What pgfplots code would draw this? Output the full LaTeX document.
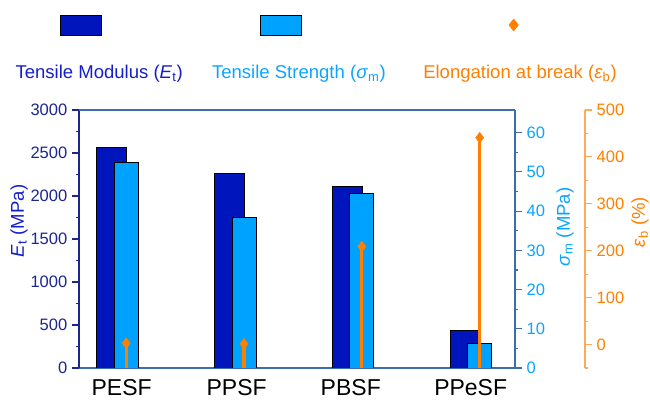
\documentclass[border=0pt]{standalone}
\usepackage{fontspec}
\setmainfont{Liberation Sans}
\usepackage{pgfplots}
\pgfplotsset{compat=1.18}
\definecolor{darkbar}{RGB}{0,21,188}
\definecolor{lightbar}{RGB}{0,162,255}
\definecolor{orng}{RGB}{255,128,0}
\definecolor{orngline}{RGB}{255,170,90}
\definecolor{navy}{RGB}{28,38,140}
\definecolor{modtext}{RGB}{20,30,200}
\definecolor{steel}{RGB}{60,110,170}
\definecolor{strtext}{RGB}{10,165,255}
\newcommand{\lblfont}{\fontsize{13.9}{16}\selectfont}
\pgfplotsset{
  base/.style={scale only axis, width=327pt, height=193.5pt,
    at={(59.25pt,28.5pt)}, anchor=south west, xmin=-0.401, xmax=3.30,
    /pgf/number format/assume math mode=true,
    /pgf/number format/1000 sep={},
    tick align=outside, major tick length=5.25pt, minor tick length=2.5pt,
    every tick/.style={line width=0.8pt},
    ticklabel style={font=\fontsize{12.4}{14}\selectfont}},
}
\begin{document}
\begin{tikzpicture}
\path[use as bounding box] (0,0) rectangle (487.5pt,304.5pt);
% left axis: tensile modulus
\begin{axis}[base, ymin=0, ymax=3000,
  axis y line*=left, axis x line*=bottom,
  y axis line style={-, navy, line width=0.8pt},
  x axis line style={-, steel, line width=0.8pt},
  xtick={-0.039,0.937,1.906,2.924},
  xticklabels={PESF,PPSF,PBSF,PPeSF},
  xtick style={draw=none},
  xticklabel style={font=\fontsize{17.25}{20}\selectfont, black},
  ytick={0,500,...,3000}, minor y tick num=1,
  ytick style={navy},
  yticklabel style={navy},
  ylabel={\textit{E}\textsubscript{t} (MPa)},
  every axis y label/.style={at={(axis description cs:-0.1376,0.57)}, rotate=90, anchor=center, modtext, font=\lblfont}]
\addplot[ybar, bar width=0.2547, bar shift=-0.124, fill=darkbar, draw=black, line width=0.6pt]
  coordinates {(0,2562) (1,2267) (2,2108) (3,438)};
\end{axis}
% right axis: tensile strength
\begin{axis}[base, ymin=0, ymax=65.8,
  axis y line*=right, axis x line*=top, xtick=\empty,
  x axis line style={-, steel, line width=0.8pt},
  y axis line style={-, steel, line width=0.8pt},
  ytick={0,10,...,60}, minor y tick num=1,
  ytick style={steel},
  yticklabel style={strtext},
  ylabel={\textit{σ}\textsubscript{m} (MPa)},
  every axis y label/.style={at={(axis description cs:1.1147,0.5465)}, rotate=90, anchor=center, strtext, font=\lblfont}]
\addplot[ybar, bar width=0.2037, bar shift=0, fill=lightbar, draw=black, line width=0.6pt]
  coordinates {(0,52.5) (1,38.3) (2,44.45) (3,6.2)};
\end{axis}
% offset axis: elongation at break (shifted by +50 so stems start at the bottom)
\begin{axis}[base, ymin=0, ymax=550,
  axis y line*=right, axis y line shift=52.5pt, hide x axis,
  y axis line style={-, orngline, line width=0.8pt},
  ytick={50,150,...,550}, yticklabels={0,100,200,300,400,500},
  minor ytick={0,100,...,500},
  ytick style={orngline},
  yticklabel style={orng},
  ylabel={\textit{ε}\textsubscript{b} (\%)},
  every axis y label/.style={at={(axis description cs:1.287,0.566)}, rotate=90, anchor=center, orng, font=\lblfont},
  legend columns=3, legend cell align=left,
  legend style={at={(-0.1468,1.1434)}, anchor=west, draw=none, fill=none,
    inner sep=0pt, outer sep=0pt, column sep=0pt,
    nodes={inner sep=0pt, font=\lblfont}}]
\addlegendimage{legend image code/.code={\path (0pt,0pt);
  \draw[overlay, fill=darkbar, draw=black, line width=0.6pt] (34.1pt,28.5pt) rectangle (64.9pt,43.5pt);}}
\addlegendentry{\makebox[147pt][l]{\textcolor{modtext}{Tensile Modulus (\textit{E}\textsubscript{t})}}}
\addlegendimage{legend image code/.code={\path (0pt,0pt);
  \draw[overlay, fill=lightbar, draw=black, line width=0.6pt] (36.4pt,28.5pt) rectangle (67.1pt,43.5pt);}}
\addlegendentry{\makebox[156pt][l]{\textcolor{strtext}{Tensile Strength (\textit{σ}\textsubscript{m})}}}
\addplot[ycomb, orng, line width=2.4pt, mark=diamond*,
  mark options={line width=0.4pt, fill=orng, draw=orng}, mark size=4pt,
  y filter/.expression={y+50},
  legend image code/.code={\path (0pt,0pt);
    \draw[overlay, fill=orng, draw=orng, line width=0.4pt] (69pt,36pt) ++(0pt,4.5pt) -- ++(3.5pt,-4.5pt) -- ++(-3.5pt,-4.5pt) -- ++(-3.5pt,4.5pt) -- cycle;}]
  coordinates {(0,2.8) (1,1.5) (2,209) (3,441)};
\addlegendentry{\textcolor{orng}{Elongation at break (\textit{ε}\textsubscript{b})}}
\end{axis}
\end{tikzpicture}
\end{document}
